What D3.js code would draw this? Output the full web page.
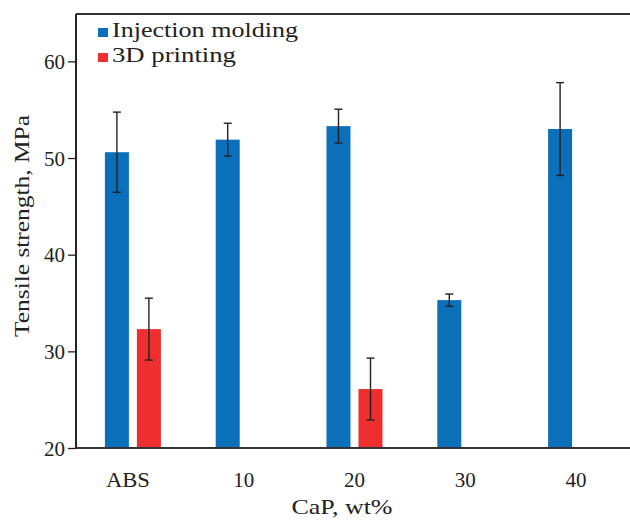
<!DOCTYPE html>
<html lang="en">
<head>
<meta charset="utf-8">
<title>Tensile strength</title>
<style>
  body { margin: 0; background: #fff; }
  text { font-family: "Liberation Serif", "DejaVu Serif", serif; fill: #222; }
</style>
</head>
<body>
<svg width="630" height="524"></svg>
<script src="https://d3js.org/d3.v7.min.js"></script>
<script>
  var categories = ["ABS", "10", "20", "30", "40"];
  var seriesNames = ["Injection molding", "3D printing"];
  var injection = [50.6, 51.9, 53.3, 35.3, 53.0];
  var injectionErr = [4.15, 1.7, 1.75, 0.63, 4.8];
  var printing = [32.3, null, 26.1, null, null];
  var printingErr = [3.2, null, 3.2, null, null];
  var yTicks = [20, 30, 40, 50, 60];
  var colors = ["#0b6fb9", "#ee2e2f"];

  var svg = d3.select("svg"),
      margin = {top: 14, right: 0, bottom: 76, left: 76},
      width = +svg.attr("width") - margin.left - margin.right,
      height = +svg.attr("height") - margin.top - margin.bottom;

  var g = svg.append("g")
    .attr("transform", "translate(" + margin.left + "," + margin.top + ")");

  var x = d3.scaleBand().domain(categories).range([1.5, width + 1.5]);
  var y = d3.scaleLinear().domain([20, 64.9]).range([height, 0]);

  var barW = 24, gap = 8;

  // rows for each series
  var rows = [];
  categories.forEach(function(c, i) {
    rows.push({cat: c, s: 0, v: injection[i], e: injectionErr[i]});
    if (printing[i] != null) rows.push({cat: c, s: 1, v: printing[i], e: printingErr[i]});
  });
  function barX(d) {
    var c = x(d.cat) + x.bandwidth() / 2;
    return d.s === 0 ? c - gap / 2 - barW : c + gap / 2;
  }

  g.selectAll(".bar").data(rows).enter().append("rect")
    .attr("class", "bar")
    .attr("x", barX)
    .attr("width", barW)
    .attr("y", function(d) { return y(d.v); })
    .attr("height", function(d) { return y(20) - y(d.v); })
    .attr("fill", function(d) { return colors[d.s]; });

  // error bars
  var eb = g.selectAll(".err").data(rows).enter().append("g")
    .attr("class", "err")
    .attr("stroke", "#222")
    .attr("stroke-width", 1.4);
  eb.append("line")
    .attr("x1", function(d) { return barX(d) + barW / 2; })
    .attr("x2", function(d) { return barX(d) + barW / 2; })
    .attr("y1", function(d) { return y(d.v + d.e); })
    .attr("y2", function(d) { return y(d.v - d.e); });
  [1, -1].forEach(function(sgn) {
    eb.append("line")
      .attr("x1", function(d) { return barX(d) + barW / 2 - 4; })
      .attr("x2", function(d) { return barX(d) + barW / 2 + 4; })
      .attr("y1", function(d) { return y(d.v + sgn * d.e); })
      .attr("y2", function(d) { return y(d.v + sgn * d.e); });
  });

  // axes
  var yAxis = g.append("g")
    .call(d3.axisLeft(y).tickValues(yTicks).tickSize(8).tickPadding(3));
  yAxis.select(".domain").remove();
  yAxis.selectAll(".tick line").attr("stroke", "#222").attr("stroke-width", 1.3);
  yAxis.selectAll(".tick text")
    .style("font-family", "Liberation Serif")
    .attr("font-size", 21).attr("fill", "#222").attr("dy", "0.34em");

  var xAxis = g.append("g")
    .attr("transform", "translate(0," + height + ")")
    .call(d3.axisBottom(x).tickSize(0).tickPadding(24));
  xAxis.select(".domain").remove();
  xAxis.selectAll(".tick text")
    .style("font-family", "Liberation Serif")
    .attr("font-size", 21).attr("fill", "#222")
    .attr("x", function(d) { return d === "ABS" ? -5 : 0; })
    .attr("textLength", function(d) { return d === "ABS" ? 44 : null; })
    .attr("lengthAdjust", "spacingAndGlyphs");

  // frame lines: left, top, bottom
  g.append("line").attr("x1", 0).attr("x2", 0).attr("y1", 0).attr("y2", height)
    .attr("stroke", "#222").attr("stroke-width", 2);
  g.append("line").attr("x1", 0).attr("x2", width).attr("y1", 0).attr("y2", 0)
    .attr("stroke", "#333").attr("stroke-width", 2);
  g.append("line").attr("x1", 0).attr("x2", width).attr("y1", height).attr("y2", height)
    .attr("stroke", "#333").attr("stroke-width", 2);

  // legend
  var legendLen = [186, 124];
  var leg = svg.append("g").attr("transform", "translate(98,28)");
  seriesNames.forEach(function(n, i) {
    leg.append("rect").attr("x", 0).attr("y", i * 25).attr("width", 10).attr("height", 9)
      .attr("fill", colors[i]);
    leg.append("text").attr("x", 14).attr("y", i * 25 + 9)
      .attr("font-size", 22)
      .attr("textLength", legendLen[i]).attr("lengthAdjust", "spacingAndGlyphs")
      .text(n);
  });

  // titles
  svg.append("text")
    .attr("transform", "translate(29,226) rotate(-90)")
    .attr("text-anchor", "middle").attr("font-size", 22)
    .attr("textLength", 222).attr("lengthAdjust", "spacingAndGlyphs")
    .text("Tensile strength, MPa");
  svg.append("text")
    .attr("x", 342).attr("y", 514)
    .attr("text-anchor", "middle").attr("font-size", 22)
    .attr("textLength", 101).attr("lengthAdjust", "spacingAndGlyphs")
    .text("CaP, wt%");
</script>
</body>
</html>
